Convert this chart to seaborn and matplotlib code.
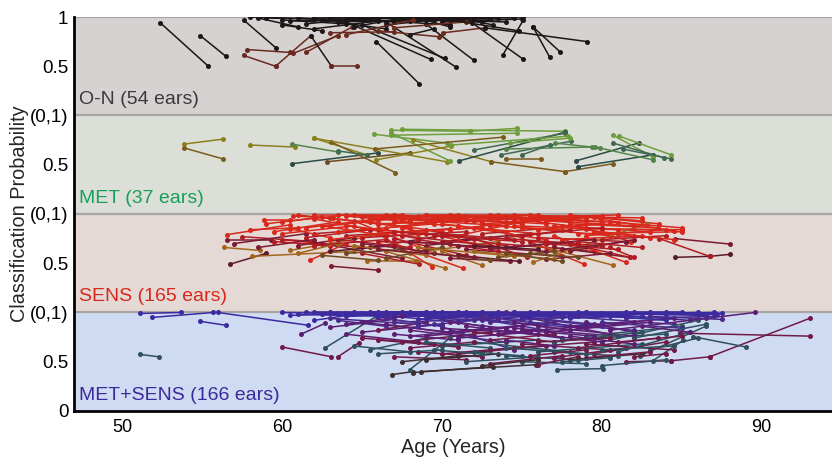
import matplotlib
matplotlib.use("Agg")
import matplotlib.pyplot as plt
import pandas as pd
import seaborn as sns

sns.set_theme(style="white")
plt.rcParams["font.family"] = ["Liberation Sans", "DejaVu Sans"]

# group order from bottom band to top band
GROUPS = ["MET+SENS", "SENS", "MET", "O-N"]
GROUP_LABELS = ["MET+SENS (166 ears)", "SENS (165 ears)", "MET (37 ears)", "O-N (54 ears)"]
LABEL_COLORS = ["#3b2a9c", "#d8281c", "#16a05a", "#3a3a3a"]
BAND_COLORS = ["#cfdbf2", "#e5d9d6", "#dcdfd8", "#d6d2d1"]
YTICK_LABELS = ["0", "0.5", "(0,1)", "0.5", "(0,1)", "0.5", "(0,1)", "0.5", "1"]

# (age1, prob1, age2, prob2, tone) per ear
ON_SEGMENTS = [
    (52.4, 0.94, 55.4, 0.50, "k"), (54.9, 0.81, 56.5, 0.60, "k"), (57.6, 0.97, 59.6, 0.69, "k"),
    (57.6, 0.61, 59.6, 0.50, "b"), (59.6, 0.50, 61.8, 0.81, "b"), (57.8, 0.67, 60.5, 0.64, "b"),
    (60.7, 0.63, 63.5, 0.81, "b"), (61.5, 0.64, 64.4, 0.90, "b"), (61.8, 0.81, 63.1, 0.50, "k"),
    (63.1, 0.50, 64.7, 0.50, "b"), (65.9, 0.75, 68.6, 0.32, "k"), (64.0, 0.95, 69.3, 0.57, "k"),
    (65.0, 0.92, 70.2, 0.58, "k"), (66.5, 0.95, 70.9, 0.49, "k"), (69.0, 0.93, 72.0, 0.56, "k"),
    (70.1, 0.84, 72.7, 0.89, "b"), (73.8, 0.61, 75.1, 0.97, "k"), (71.9, 0.94, 75.1, 0.57, "k"),
    (75.7, 0.90, 76.75, 0.59, "k"), (75.7, 0.90, 77.4, 0.645, "k"), (72.7, 0.89, 79.1, 0.75, "k"),
    (58.0, 1.00, 62.0, 0.98, "k"), (59.0, 0.99, 66.0, 0.97, "k"), (60.0, 0.97, 64.0, 0.93, "k"),
    (60.5, 0.96, 68.0, 0.99, "k"), (61.0, 0.99, 67.0, 0.95, "k"), (61.5, 0.93, 65.0, 0.99, "k"),
    (62.0, 1.00, 70.0, 0.98, "k"), (62.5, 0.97, 66.5, 0.88, "k"), (63.0, 0.99, 71.0, 0.99, "k"),
    (63.5, 0.95, 68.5, 0.97, "k"), (64.0, 0.99, 73.0, 0.98, "k"), (64.5, 0.90, 67.5, 0.99, "k"),
    (65.0, 1.00, 74.5, 0.99, "k"), (65.5, 0.97, 70.5, 0.92, "k"), (66.0, 0.99, 75.1, 1.00, "k"),
    (66.5, 0.92, 69.5, 0.97, "k"), (67.0, 0.98, 72.5, 0.95, "k"), (67.5, 1.00, 71.5, 0.98, "k"),
    (68.0, 0.96, 73.5, 0.99, "k"), (68.5, 0.99, 70.5, 0.90, "k"), (69.0, 0.97, 74.0, 0.95, "k"),
    (69.5, 0.99, 72.0, 0.99, "k"), (70.0, 0.95, 75.0, 0.98, "k"), (62.0, 0.88, 66.0, 0.96, "k"),
    (63.0, 0.84, 67.0, 0.85, "b"), (64.0, 0.82, 68.2, 0.97, "b"), (66.0, 0.86, 69.8, 0.80, "b"),
    (60.0, 0.92, 62.5, 0.86, "k"), (71.0, 0.99, 73.2, 0.92, "k"), (58.5, 0.99, 61.0, 0.90, "k"),
    (67.0, 0.89, 71.5, 0.95, "b"), (68.0, 0.82, 69.5, 0.88, "k"), (70.5, 0.97, 74.8, 0.86, "k"),
]

MET_SEGMENTS = [
    (53.9, 0.71, 56.3, 0.76, "ol"), (53.9, 0.67, 56.3, 0.56, "ob"), (58.0, 0.70, 60.8, 0.68, "ol"),
    (60.6, 0.71, 63.5, 0.63, "tg"), (60.6, 0.51, 66.0, 0.62, "dt"), (62.0, 0.77, 65.3, 0.60, "ol"),
    (63.1, 0.73, 67.1, 0.42, "ob"), (62.8, 0.53, 68.0, 0.62, "br"), (62.0, 0.77, 70.3, 0.53, "ol"),
    (65.75, 0.81, 70.3, 0.72, "gr"), (66.85, 0.85, 71.75, 0.84, "gr"), (71.75, 0.84, 74.7, 0.87, "gr"),
    (67.5, 0.86, 77.7, 0.84, "gr"), (66.85, 0.82, 70.5, 0.54, "gr"), (65.8, 0.66, 73.8, 0.78, "ob"),
    (68.2, 0.75, 73.1, 0.53, "ol"), (65.9, 0.55, 70.6, 0.69, "ol"), (71.1, 0.54, 77.7, 0.83, "dt"),
    (72.0, 0.65, 77.7, 0.82, "te"), (73.7, 0.60, 78.1, 0.74, "te"), (74.0, 0.56, 76.2, 0.56, "ob"),
    (74.0, 0.66, 79.4, 0.68, "tg"), (75.0, 0.60, 76.75, 0.70, "te"), (73.1, 0.53, 77.7, 0.43, "ob"),
    (77.7, 0.43, 80.7, 0.51, "ob"), (78.4, 0.54, 82.3, 0.72, "dt"), (78.5, 0.48, 83.2, 0.60, "dt"),
    (80.7, 0.80, 83.2, 0.58, "gr"), (81.1, 0.79, 84.35, 0.60, "gr"), (80.7, 0.72, 83.9, 0.57, "te"),
    (81.3, 0.66, 84.35, 0.56, "te"), (79.6, 0.68, 83.2, 0.55, "tg"), (77.1, 0.72, 79.9, 0.67, "tg"),
    (74.25, 0.72, 78.0, 0.77, "gr"), (66.85, 0.80, 74.7, 0.82, "gr"), (63.5, 0.64, 65.3, 0.60, "te"),
    (70.6, 0.70, 77.9, 0.79, "gr"),
]

SENS_SEGMENTS = [
    (56.75, 0.49, 59.0, 0.60, "dm"), (56.55, 0.79, 60.5, 0.89, "r"), (56.55, 0.735, 59.3, 0.735, "m"),
    (56.4, 0.66, 58.6, 0.63, "o"), (58.9, 0.94, 60.5, 0.94, "r"), (58.1, 0.57, 64.5, 0.62, "o"),
    (60.7, 0.98, 63.2, 0.96, "r"), (65.3, 0.52, 68.4, 0.52, "o"), (63.1, 0.47, 66.0, 0.43, "m"),
    (61.75, 0.53, 64.0, 0.70, "r"), (57.5, 0.77, 62.0, 0.72, "dr"), (57.0, 0.70, 61.5, 0.80, "m"),
    (59.5, 0.82, 63.5, 0.92, "r"), (60.0, 0.74, 65.0, 0.66, "dr"), (60.5, 0.63, 66.5, 0.80, "o"),
    (61.0, 0.99, 66.0, 0.90, "r"), (61.5, 0.86, 67.0, 0.97, "r"), (62.0, 0.95, 68.5, 0.75, "r"),
    (62.5, 0.70, 67.5, 0.55, "m"), (63.0, 0.88, 69.0, 0.99, "r"), (63.5, 0.99, 70.0, 0.94, "r"),
    (64.0, 0.78, 70.5, 0.85, "dr"), (64.5, 0.93, 69.5, 0.60, "r"), (65.0, 0.97, 71.0, 0.99, "r"),
    (65.5, 0.66, 70.0, 0.78, "m"), (66.0, 0.90, 72.0, 0.93, "r"), (66.5, 0.99, 73.0, 0.96, "r"),
    (67.0, 0.75, 71.5, 0.58, "dr"), (67.5, 0.94, 74.0, 0.98, "r"), (68.0, 0.60, 73.5, 0.72, "o"),
    (68.5, 0.98, 75.0, 0.90, "r"), (69.0, 0.84, 74.5, 0.66, "dr"), (69.5, 0.96, 76.0, 0.99, "r"),
    (70.0, 0.72, 75.5, 0.80, "m"), (70.5, 0.99, 77.0, 0.95, "r"), (71.0, 0.88, 76.5, 0.74, "r"),
    (71.5, 0.64, 77.5, 0.57, "m"), (72.0, 0.95, 78.0, 0.97, "r"), (72.5, 0.80, 78.5, 0.88, "dr"),
    (73.0, 0.99, 79.0, 0.93, "r"), (73.5, 0.70, 79.5, 0.62, "dr"), (74.0, 0.92, 80.0, 0.98, "r"),
    (74.5, 0.57, 79.0, 0.66, "o"), (75.0, 0.86, 80.5, 0.78, "r"), (75.5, 0.97, 81.0, 0.99, "r"),
    (76.0, 0.76, 81.5, 0.72, "dr"), (76.5, 0.93, 82.0, 0.88, "r"), (77.0, 0.66, 81.75, 0.56, "m"),
    (77.5, 0.88, 83.0, 0.82, "r"), (78.0, 0.99, 82.5, 0.93, "r"), (79.9, 0.96, 83.6, 0.90, "r"),
    (78.5, 0.80, 85.0, 0.82, "r"), (84.6, 0.75, 88.0, 0.695, "m"), (84.6, 0.56, 86.75, 0.57, "dm"),
    (86.75, 0.57, 88.0, 0.59, "dm"), (83.6, 0.75, 86.75, 0.57, "dr"), (79.0, 0.85, 81.85, 0.72, "r"),
    (78.0, 0.70, 81.75, 0.56, "dr"), (77.0, 0.78, 81.5, 0.51, "r"), (76.0, 0.68, 80.7, 0.48, "o"),
    (74.0, 0.82, 78.9, 0.49, "r"), (75.7, 0.51, 82.8, 0.90, "o"), (72.0, 0.75, 75.3, 0.56, "dr"),
    (67.0, 0.70, 71.3, 0.45, "r"), (66.5, 0.62, 70.2, 0.45, "o"), (65.0, 0.60, 68.6, 0.49, "dr"),
    (66.0, 0.80, 69.4, 0.465, "r"), (70.0, 0.62, 72.5, 0.48, "o"), (70.5, 0.55, 74.25, 0.52, "m"),
    (71.0, 0.58, 74.8, 0.52, "dm"), (60.0, 0.92, 64.0, 0.99, "r"), (62.0, 0.80, 66.0, 0.85, "dr"),
    (63.0, 0.62, 67.0, 0.68, "dm"), (64.0, 0.98, 68.0, 0.92, "r"), (65.0, 0.85, 69.0, 0.80, "r"),
    (66.0, 0.72, 70.5, 0.70, "dr"), (67.0, 0.92, 71.0, 0.88, "r"), (68.0, 0.82, 72.5, 0.86, "r"),
    (69.0, 0.68, 73.0, 0.76, "m"), (70.0, 0.90, 74.0, 0.82, "r"), (71.0, 0.78, 75.0, 0.92, "r"),
    (72.0, 0.86, 76.0, 0.80, "r"), (73.0, 0.64, 77.0, 0.70, "m"), (74.0, 0.76, 78.0, 0.84, "dr"),
    (75.0, 0.94, 79.0, 0.86, "r"), (76.0, 0.84, 80.0, 0.90, "r"), (77.0, 0.96, 81.0, 0.91, "r"),
    (78.0, 0.62, 82.0, 0.74, "m"), (79.0, 0.78, 84.0, 0.84, "r"), (80.0, 0.85, 85.0, 0.84, "r"),
    (63.5, 0.74, 68.0, 0.66, "dr"), (64.5, 0.68, 69.0, 0.58, "o"), (65.5, 0.92, 70.0, 0.82, "r"),
    (68.5, 0.74, 73.5, 0.62, "dr"), (69.5, 0.60, 73.0, 0.53, "br"), (73.5, 0.56, 77.0, 0.62, "br"),
    (61.0, 0.68, 64.5, 0.76, "m"), (58.0, 0.84, 61.0, 0.86, "r"), (62.5, 0.58, 66.0, 0.53, "br"),
    (71.5, 0.93, 76.5, 0.96, "r"), (74.5, 0.99, 79.5, 0.97, "r"), (76.5, 0.54, 80.5, 0.60, "m"),
    (67.5, 0.86, 72.0, 0.70, "r"), (80.5, 0.66, 82.0, 0.56, "dr"), (66.5, 0.55, 70.0, 0.66, "br"),
    (69.0, 0.92, 73.5, 0.99, "r"), (73.0, 0.88, 77.5, 0.84, "r"), (75.5, 0.72, 80.0, 0.68, "dr"),
    (77.5, 0.74, 82.5, 0.78, "r"), (60.5, 0.85, 63.0, 0.76, "r"),
    (59.0, 0.90, 62.5, 0.97, "r"), (61.5, 0.76, 65.5, 0.84, "dr"), (62.0, 0.99, 67.5, 0.99, "r"),
    (62.5, 0.88, 66.5, 0.78, "r"), (63.0, 0.96, 68.0, 0.86, "r"), (63.5, 0.82, 69.5, 0.90, "r"),
    (64.0, 0.60, 67.5, 0.64, "br"), (64.5, 0.99, 70.5, 0.97, "r"), (65.0, 0.76, 71.5, 0.82, "dr"),
    (65.5, 0.96, 72.5, 0.92, "r"), (66.0, 0.64, 72.0, 0.56, "m"), (66.5, 0.86, 71.0, 0.94, "r"),
    (67.0, 0.99, 74.5, 0.95, "r"), (67.5, 0.78, 73.0, 0.68, "dr"), (68.0, 0.94, 74.0, 0.88, "r"),
    (68.5, 0.66, 74.0, 0.58, "o"), (69.0, 0.99, 75.5, 0.99, "r"), (69.5, 0.78, 75.0, 0.72, "dr"),
    (70.0, 0.96, 76.5, 0.90, "r"), (70.5, 0.84, 76.0, 0.94, "r"), (71.0, 0.68, 76.5, 0.62, "m"),
    (71.5, 0.98, 78.0, 0.92, "r"), (72.0, 0.62, 77.0, 0.54, "o"), (72.5, 0.90, 79.0, 0.96, "r"),
    (73.0, 0.76, 78.5, 0.70, "dr"), (73.5, 0.96, 80.0, 0.92, "r"), (74.0, 0.66, 79.5, 0.74, "m"),
    (74.5, 0.88, 81.0, 0.84, "r"), (75.0, 0.78, 80.0, 0.86, "dr"), (75.5, 0.60, 78.5, 0.56, "br"),
    (76.0, 0.98, 82.5, 0.96, "r"), (76.5, 0.70, 81.0, 0.64, "dr"), (77.0, 0.88, 82.0, 0.78, "r"),
    (77.5, 0.64, 81.5, 0.72, "m"), (78.0, 0.90, 83.5, 0.86, "r"), (78.5, 0.72, 82.5, 0.66, "dr"),
    (79.0, 0.97, 84.5, 0.83, "r"), (79.5, 0.82, 83.0, 0.76, "r"), (80.0, 0.74, 84.0, 0.78, "dr"),
    (80.5, 0.92, 85.0, 0.86, "r"), (81.0, 0.80, 84.5, 0.74, "r"), (58.5, 0.66, 62.0, 0.74, "m"),
    (59.5, 0.72, 63.0, 0.68, "dr"), (60.0, 0.80, 64.5, 0.88, "r"), (61.0, 0.60, 63.5, 0.70, "o"),
    (62.0, 0.68, 66.5, 0.74, "dr"), (63.0, 0.74, 67.5, 0.82, "r"), (64.0, 0.88, 68.5, 0.80, "r"),
    (65.0, 0.70, 69.0, 0.62, "m"), (66.0, 0.94, 70.0, 0.98, "r"), (67.0, 0.82, 72.0, 0.76, "dr"),
    (68.0, 0.72, 73.0, 0.66, "m"), (70.0, 0.80, 74.5, 0.74, "dr"), (72.0, 0.68, 76.0, 0.64, "dm"),
    (74.0, 0.60, 77.5, 0.52, "br"),
]

METSENS_SEGMENTS = [
    (51.1, 0.99, 53.7, 1.00, "bl"), (51.9, 0.95, 55.7, 1.00, "bl"), (54.9, 0.91, 56.5, 0.87, "bl"),
    (56.0, 1.00, 61.65, 0.87, "bl"), (51.1, 0.575, 52.3, 0.55, "sl"), (60.0, 0.65, 63.1, 0.55, "ma"),
    (63.5, 0.55, 64.8, 0.69, "ma"), (61.2, 0.78, 62.7, 0.89, "pu"), (62.7, 0.64, 65.9, 0.96, "sl"),
    (66.9, 0.37, 68.2, 0.40, "db"), (86.0, 0.93, 89.6, 1.00, "pu"), (93.0, 0.94, 86.75, 0.55, "ma"),
    (86.75, 0.55, 84.35, 0.51, "ma"), (84.35, 0.51, 81.5, 0.50, "ma"), (93.0, 0.76, 84.9, 0.79, "ma"),
    (89.0, 0.65, 85.7, 0.755, "sl"), (77.2, 0.42, 80.1, 0.43, "sl"), (68.2, 0.39, 73.2, 0.45, "db"),
    (68.7, 0.40, 75.9, 0.47, "db"), (82.4, 0.56, 86.5, 0.86, "sl"), (83.2, 0.51, 85.1, 0.72, "sl"),
    (61.5, 1.00, 66.0, 0.98, "bl"), (62.5, 0.98, 68.0, 1.00, "bl"), (63.0, 1.00, 70.0, 0.96, "bl"),
    (64.0, 0.96, 69.5, 1.00, "bl"), (64.5, 1.00, 72.0, 0.99, "bl"), (65.0, 0.99, 71.0, 0.90, "in"),
    (65.5, 1.00, 74.0, 1.00, "bl"), (66.0, 0.95, 73.0, 0.98, "bl"), (66.5, 1.00, 75.0, 0.93, "in"),
    (67.0, 0.98, 76.0, 1.00, "bl"), (67.5, 1.00, 72.5, 0.86, "in"), (68.0, 0.99, 77.0, 0.99, "bl"),
    (68.5, 0.93, 74.5, 1.00, "bl"), (69.0, 1.00, 78.0, 0.95, "bl"), (69.5, 0.97, 79.0, 1.00, "bl"),
    (70.0, 1.00, 76.5, 0.82, "in"), (70.5, 0.99, 80.0, 0.99, "bl"), (71.0, 0.91, 78.5, 1.00, "bl"),
    (71.5, 1.00, 81.0, 0.97, "bl"), (72.0, 0.98, 82.0, 1.00, "bl"), (72.5, 1.00, 79.5, 0.88, "in"),
    (73.0, 0.96, 83.0, 1.00, "bl"), (73.5, 1.00, 84.0, 0.98, "bl"), (74.0, 0.99, 80.5, 0.78, "pu"),
    (74.5, 1.00, 85.0, 1.00, "bl"), (75.0, 0.94, 82.5, 0.96, "bl"), (75.5, 1.00, 86.0, 0.99, "bl"),
    (76.0, 0.98, 84.5, 0.88, "in"), (77.0, 1.00, 86.5, 0.97, "bl"), (78.0, 0.97, 87.0, 1.00, "bl"),
    (79.0, 1.00, 85.5, 0.92, "bl"), (80.0, 0.99, 87.2, 0.98, "bl"), (65.0, 0.80, 70.0, 0.88, "pu"),
    (64.0, 0.78, 68.5, 0.70, "pu"), (63.0, 0.85, 67.0, 0.93, "pu"), (66.0, 0.72, 71.0, 0.65, "ma"),
    (65.5, 0.62, 69.0, 0.74, "sl"), (64.5, 0.66, 68.0, 0.60, "sl"), (66.5, 0.88, 72.0, 0.76, "pu"),
    (67.5, 0.70, 73.0, 0.80, "ma"), (68.0, 0.82, 74.0, 0.70, "pu"), (68.5, 0.60, 72.5, 0.55, "ma"),
    (69.0, 0.76, 75.0, 0.86, "pu"), (69.5, 0.88, 74.5, 0.62, "in"), (70.0, 0.66, 76.0, 0.72, "sl"),
    (70.5, 0.80, 77.0, 0.90, "pu"), (71.0, 0.58, 76.5, 0.66, "ma"), (71.5, 0.86, 77.5, 0.74, "pu"),
    (72.0, 0.70, 78.0, 0.60, "sl"), (72.5, 0.92, 79.0, 0.84, "in"), (73.0, 0.62, 79.5, 0.70, "ma"),
    (73.5, 0.78, 80.0, 0.88, "pu"), (74.0, 0.56, 78.5, 0.52, "sl"), (74.5, 0.84, 81.0, 0.76, "pu"),
    (75.0, 0.68, 80.5, 0.62, "ma"), (75.5, 0.90, 82.0, 0.82, "in"), (76.0, 0.60, 82.5, 0.68, "sl"),
    (76.5, 0.80, 83.0, 0.90, "pu"), (77.0, 0.54, 81.5, 0.64, "ma"), (77.5, 0.72, 84.0, 0.78, "sl"),
    (78.0, 0.86, 84.5, 0.94, "pu"), (78.5, 0.64, 83.5, 0.74, "ma"), (79.0, 0.76, 85.0, 0.86, "sl"),
    (79.5, 0.58, 84.0, 0.70, "ma"), (80.0, 0.70, 86.0, 0.92, "sl"), (80.5, 0.82, 86.5, 0.94, "pu"),
    (81.0, 0.60, 85.5, 0.80, "sl"), (67.0, 0.55, 71.5, 0.52, "ma"), (69.0, 0.52, 73.5, 0.58, "db"),
    (71.5, 0.50, 76.0, 0.55, "sl"), (73.0, 0.48, 77.5, 0.56, "ma"), (75.0, 0.50, 79.0, 0.48, "sl"),
    (76.0, 0.47, 78.5, 0.55, "ma"), (78.0, 0.52, 82.5, 0.58, "db"), (80.0, 0.46, 84.0, 0.52, "sl"),
    (68.0, 0.42, 70.5, 0.74, "sl"), (66.0, 0.82, 69.0, 0.90, "ma"), (62.0, 0.92, 64.5, 0.98, "bl"),
    (60.5, 0.97, 63.5, 0.99, "bl"), (83.0, 0.62, 86.0, 0.74, "sl"), (82.0, 0.55, 84.0, 0.58, "ma"),
    (70.0, 0.94, 73.5, 0.92, "in"), (77.5, 0.95, 81.5, 0.99, "bl"), (81.5, 0.94, 87.0, 0.96, "in"),
    (84.0, 0.98, 87.5, 0.99, "bl"), (68.0, 0.98, 71.0, 1.00, "bl"), (63.5, 0.92, 66.5, 0.86, "in"),
    (74.0, 0.72, 77.0, 0.66, "pu"), (79.0, 0.90, 82.0, 0.80, "pu"),
    (60.0, 1.00, 65.0, 0.99, "bl"), (61.0, 0.98, 67.0, 0.96, "bl"), (62.0, 1.00, 69.0, 1.00, "bl"),
    (63.0, 0.94, 68.5, 0.88, "in"), (64.0, 0.99, 71.5, 0.96, "bl"), (65.0, 0.90, 70.5, 0.80, "pu"),
    (66.0, 1.00, 72.5, 1.00, "bl"), (67.0, 0.90, 73.5, 0.94, "in"), (68.0, 0.76, 73.0, 0.84, "pu"),
    (69.0, 0.94, 75.5, 0.98, "bl"), (70.0, 0.84, 76.0, 0.78, "pu"), (71.0, 1.00, 77.5, 0.98, "bl"),
    (72.0, 0.80, 77.0, 0.70, "ma"), (73.0, 0.90, 78.5, 0.96, "in"), (74.0, 0.82, 80.0, 0.70, "pu"),
    (75.0, 0.96, 81.5, 1.00, "bl"), (76.0, 0.86, 82.0, 0.76, "pu"), (77.0, 0.70, 82.5, 0.80, "sl"),
    (78.0, 0.94, 84.0, 1.00, "bl"), (79.0, 0.68, 84.5, 0.62, "ma"), (80.0, 0.90, 85.0, 0.84, "in"),
    (81.0, 0.98, 86.0, 1.00, "bl"), (82.0, 0.74, 86.5, 0.88, "sl"), (83.0, 0.96, 87.5, 0.93, "in"),
    (65.0, 0.74, 69.5, 0.68, "ma"), (66.0, 0.58, 70.0, 0.62, "sl"), (67.0, 0.78, 71.0, 0.72, "pu"),
    (68.0, 0.64, 72.0, 0.70, "ma"), (69.0, 0.70, 73.0, 0.64, "sl"), (70.0, 0.58, 74.5, 0.64, "ma"),
    (71.0, 0.74, 75.5, 0.80, "pu"), (72.0, 0.60, 75.0, 0.56, "sl"), (73.0, 0.72, 77.0, 0.78, "ma"),
    (74.0, 0.64, 79.0, 0.58, "sl"), (75.0, 0.82, 79.5, 0.76, "pu"), (76.0, 0.70, 80.5, 0.74, "ma"),
    (77.0, 0.60, 81.0, 0.56, "sl"), (78.0, 0.76, 82.0, 0.68, "pu"), (79.0, 0.54, 83.0, 0.60, "ma"),
    (80.0, 0.62, 84.5, 0.66, "sl"), (81.0, 0.70, 85.0, 0.76, "ma"), (64.0, 0.88, 67.5, 0.96, "pu"),
    (66.5, 0.94, 70.0, 0.86, "in"), (68.5, 0.86, 72.0, 0.92, "in"), (70.5, 0.90, 74.0, 0.84, "pu"),
    (72.5, 0.96, 76.5, 0.88, "in"), (74.5, 0.90, 78.0, 0.82, "pu"), (76.5, 0.92, 80.0, 0.86, "in"),
    (78.5, 0.84, 82.0, 0.90, "pu"), (80.5, 0.96, 84.0, 0.92, "bl"), (82.5, 0.86, 85.5, 0.80, "pu"),
    (67.5, 0.50, 71.0, 0.56, "db"), (72.5, 0.46, 76.0, 0.52, "db"), (77.5, 0.50, 80.5, 0.54, "sl"),
    (69.5, 0.62, 72.5, 0.58, "sl"), (75.5, 0.56, 79.0, 0.62, "ma"),
]

TONES = {
    "k": "#1c1616", "b": "#6a2a1e",
    "ol": "#8c801f", "ob": "#7a5c1c", "br": "#6e4a20", "te": "#3f6a52",
    "dt": "#2c4a46", "gr": "#6f9e3c", "tg": "#55844a",
    "r": "#d8281c", "dr": "#b01c22", "m": "#7c1a34", "dm": "#5a1a2c", "o": "#a2661c",
    "bl": "#3b2aa0", "in": "#4a2a8c", "pu": "#5c1e72", "ma": "#701a48",
    "sl": "#30505e", "db": "#3f2e2e",
}

SEGMENTS = [METSENS_SEGMENTS, SENS_SEGMENTS, MET_SEGMENTS, ON_SEGMENTS]


def build_frame():
    rows = []
    palette = {}
    for band, segs in enumerate(SEGMENTS):
        for i, (a1, p1, a2, p2, tone) in enumerate(segs):
            ear = f"{GROUPS[band]}-{i}"
            palette[ear] = TONES[tone]
            rows.append((ear, a1, band + p1))
            rows.append((ear, a2, band + p2))
    return pd.DataFrame(rows, columns=["ear", "age", "y"]), palette


df, palette = build_frame()

fig = plt.figure(figsize=(8.32, 4.57), dpi=100)
ax = fig.add_axes([0.089, 0.1007, 0.911, 0.8621])

for band, color in enumerate(BAND_COLORS):
    ax.axhspan(band, band + 1, color=color, zorder=0, lw=0)
for band in range(1, 5):
    ax.axhline(band, color="#a9a5a4", lw=1.6, zorder=1)

sns.lineplot(
    data=df, x="age", y="y", units="ear", estimator=None, hue="ear",
    palette=palette, marker="o", markersize=3.6, markeredgewidth=0,
    linewidth=1.1, sort=False, legend=False, ax=ax, zorder=2,
)

for band, (label, color) in enumerate(zip(GROUP_LABELS, LABEL_COLORS)):
    ax.text(47.3, band + 0.075, label, color=color, fontsize=14,
            ha="left", va="bottom", zorder=3)

ax.set_xlim(47, 94.4)
ax.set_ylim(0, 4)
ax.set_xticks([50, 60, 70, 80, 90])
ax.set_yticks([i * 0.5 for i in range(9)])
ax.set_yticklabels(YTICK_LABELS)
ax.tick_params(axis="y", direction="in", length=6, width=1.5, labelsize=13.5, pad=4, colors="black")
ax.tick_params(axis="x", direction="out", length=3, width=1.2, labelsize=13, pad=3, colors="black")
for side in ["top", "right"]:
    ax.spines[side].set_visible(False)
for side in ["left", "bottom"]:
    ax.spines[side].set_color("black")
    ax.spines[side].set_linewidth(2)
ax.set_xlabel("Age (Years)", fontsize=14.3, labelpad=1)
ax.set_ylabel("Classification Probability", fontsize=14.3, labelpad=1)

fig.savefig("out.png", dpi=100)
